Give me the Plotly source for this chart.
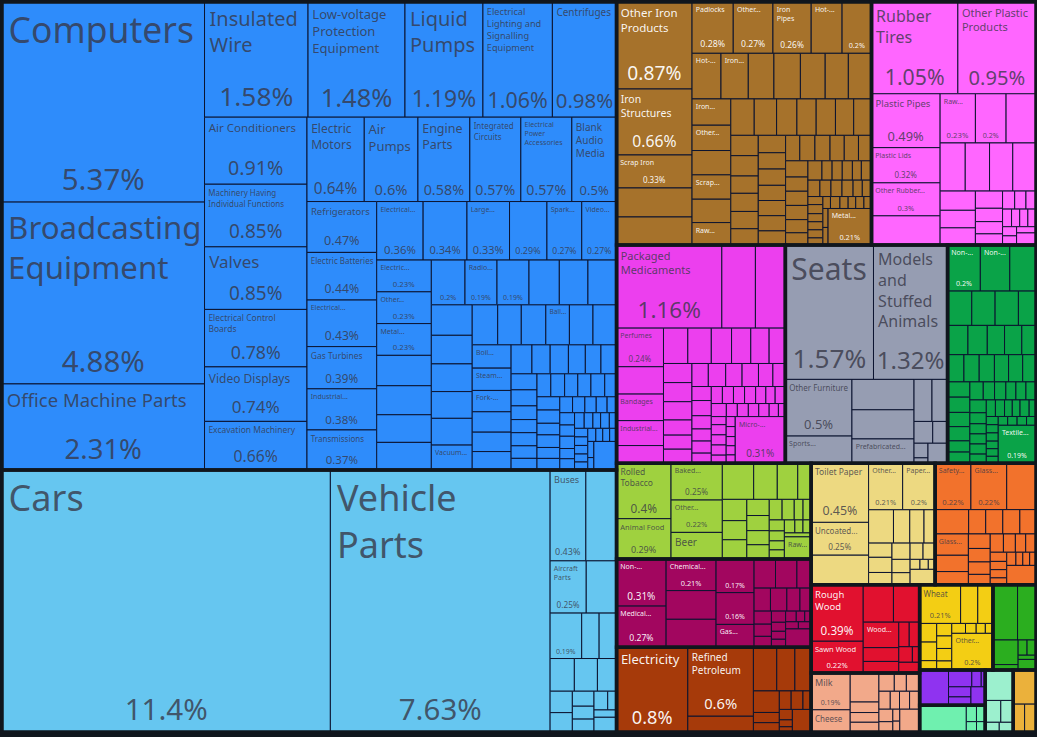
import numpy as np
import plotly.graph_objects as go

# shares of world trade in percent.
# a cell is: number = no text, (label, value) = label and percent,
# (label, value, False) = label only.  ("", value) = percent only.
machines = [
    ("col", [("Computers", 5.37), ("Broadcasting<br>Equipment", 4.88), ("Office Machine Parts", 2.31)]),
    ("row", [("Insulated<br>Wire", 1.58), ("Low-voltage<br>Protection<br>Equipment", 1.48), ("Liquid<br>Pumps", 1.19),
             ("Electrical<br>Lighting and<br>Signalling<br>Equipment", 1.06), ("Centrifuges", 0.98)]),
    ("col", [("Air Conditioners", 0.91), ("Machinery Having<br>Individual Functions", 0.85), ("Valves", 0.85),
             ("Electrical Control<br>Boards", 0.78), ("Video Displays", 0.74), ("Excavation Machinery", 0.66)]),
    ("row", [("Electric<br>Motors", 0.64), ("Air<br>Pumps", 0.6), ("Engine<br>Parts", 0.58), ("Integrated<br>Circuits", 0.57),
             ("Electrical<br>Power<br>Accessories", 0.57), ("Blank<br>Audio<br>Media", 0.5)]),
    ("col", [("Refrigerators", 0.47), ("Electric Batteries", 0.44), ("Electrical...", 0.43), ("Gas Turbines", 0.39),
             ("Industrial...", 0.38), ("Transmissions", 0.37)]),
    ("row", [("Electrical...", 0.36), ("", 0.34), ("Large...", 0.33), ("", 0.29), ("Spark...", 0.27), ("Video...", 0.27)]),
    ("col", [("Electric...", 0.23), ("Other...", 0.23), ("Metal...", 0.23), 0.22, 0.21, 0.2, 0.2]),
    ("row", [("", 0.2), ("Radio...", 0.19), ("", 0.19), 0.18, 0.17, 0.17]),
    ("col", [0.165, 0.155, 0.15, 0.145, 0.145, ("Vacuum...", 0.135, False)]),
    ("row", [0.135, 0.125, 0.13, ("Ball...", 0.125, False), 0.125, 0.125]),
    ("col", [("Boil...", 0.12, False), ("Steam...", 0.115, False), ("Fork-...", 0.11, False), 0.105, 0.1, 0.095]),
    ("row", [0.08, 0.07, 0.07, 0.065, 0.06, 0.06]),
    ("col", [0.055, 0.055, 0.047, 0.045, 0.045, 0.043, 0.04]),
    ("row", [0.042, 0.042, 0.04, 0.04, 0.042, 0.036]),
    ("col", [0.04, 0.04, 0.035, 0.038, 0.033, 0.035]),
    ("row", [0.027, 0.026, 0.024, 0.023, 0.02]),
    ("col", [0.024, 0.022, 0.024, 0.02, 0.022]),
    ("row", [0.02, 0.018, 0.016, 0.018, 0.015]),
    ("col", [0.015, 0.015, 0.015, 0.014, 0.014]),
    ("row", [0.014, 0.012, 0.012, 0.012]),
    ("col", [0.013, 0.01]),
    ("col", [0.086]),
]
transport = [
    ("col", [("Cars", 11.4)]),
    ("col", [("Vehicle<br>Parts", 7.63)]),
    ("row", [("Buses", 0.43), 0.37]),
    ("row", [("Aircraft<br>Parts", 0.25), 0.21]),
    ("row", [("", 0.19), 0.105, 0.105]),
    ("row", [0.105, 0.1, 0.083]),
    ("col", [0.063, 0.057]),
    ("col", [0.043, 0.037, 0.037]),
    ("row", [0.034, 0.022]),
    ("row", [0.022]),
    ("row", [0.044]),
]
metals = [
    ("col", [("Other Iron<br>Products", 0.87), ("Iron<br>Structures", 0.66), ("Scrap Iron", 0.33), 0.29, 0.28]),
    ("row", [("Padlocks", 0.28), ("Other...", 0.27), ("Iron<br>Pipes", 0.26), ("Hot-...", 0.21, False), ("", 0.2)]),
    ("row", [("Hot-...", 0.175, False), ("Iron...", 0.165, False), 0.155, 0.16, 0.15, 0.14, 0.14]),
    ("col", [("Iron...", 0.135, False), ("Other...", 0.13, False), 0.125, ("Scrap...", 0.125, False), 0.12, ("Raw...", 0.115, False)]),
    ("row", [0.113, 0.108, 0.098, 0.093, 0.093, 0.088, 0.086]),
    ("col", [0.074, 0.074, 0.063, 0.066, 0.063, 0.059]),
    ("col", [0.063, 0.059, 0.059, 0.055, 0.055, 0.055, 0.051]),
    ("row", [0.048, 0.051, 0.051, 0.048, 0.048, 0.044]),
    ("col", [0.048, 0.042, 0.042, 0.042, 0.039, 0.036]),
    ("row", [0.036, 0.026, 0.026, 0.026, 0.023, 0.026]),
    ("row", [0.026, 0.024, 0.024, 0.024, 0.02, 0.02]),
    ("col", [0.016, 0.018, 0.016, 0.016, 0.016, 0.014]),
    ("row", [0.012, 0.015, 0.013, 0.012, 0.013, 0.012]),
    ("col", [0.013, 0.012]),
    ("col", [("Metal...", 0.21)]),
]
plastics = [
    ("row", [("Rubber<br>Tires", 1.05), ("Other Plastic<br>Products", 0.95)]),
    ("col", [("Plastic Pipes", 0.49), ("Plastic Lids", 0.32), ("Other Rubber...", 0.3), 0.265]),
    ("row", [("Raw...", 0.23), ("", 0.2), 0.195]),
    ("row", [0.16, 0.155, 0.148, 0.148]),
    ("col", [0.09, 0.082, 0.08]),
    ("col", [0.062, 0.048, 0.044, 0.04]),
    ("row", [0.029, 0.027, 0.024]),
    ("row", [0.021, 0.019, 0.019, 0.019]),
    ("col", [0.017, 0.017]),
    ("col", [0.016, 0.031]),
]
chemicals = [
    ("row", [("Packaged<br>Medicaments", 1.16), 0.37, 0.33]),
    ("col", [("Perfumes", 0.24), 0.17, ("Bandages", 0.165, False), ("Industrial...", 0.155, False), 0.11]),
    ("row", [0.114, 0.11, 0.095, 0.09, 0.086, 0.076]),
    ("col", [0.072, 0.072, 0.069, 0.057, 0.053, 0.053]),
    ("row", [0.05, 0.053, 0.05, 0.05, 0.044, 0.038]),
    ("col", [0.036, 0.039, 0.034, 0.031, 0.031, 0.026]),
    ("row", [0.025, 0.025, 0.025, 0.025, 0.023, 0.021, 0.023]),
    ("row", [0.026, 0.019, 0.019, 0.018, 0.018, 0.016, 0.012]),
    ("col", [0.016, 0.02, 0.02, 0.02, 0.016]),
    ("col", [0.012, 0.012, 0.011, 0.011, 0.01]),
    ("col", [("Micro-...", 0.31)]),
]
misc = [
    ("row", [("Seats", 1.57), ("Models<br>and<br>Stuffed<br>Animals", 1.32)]),
    ("col", [("Other Furniture", 0.5), ("Sports...", 0.24, False)]),
    ("col", [0.25, 0.24, ("Prefabricated...", 0.2, False)]),
    ("row", [0.1, 0.087]),
    ("row", [0.054, 0.043]),
    ("col", [0.027, 0.01]),
    ("col", [0.052]),
]
textiles = [
    ("row", [("Non-...", 0.2), ("Non-...", 0.18, False), 0.16]),
    ("row", [0.11, 0.106, 0.106, 0.08]),
    ("row", [0.079, 0.075, 0.067, 0.067, 0.055]),
    ("row", [0.059, 0.055, 0.055, 0.051, 0.051, 0.048]),
    ("col", [0.045, 0.045, 0.042, 0.042, 0.033, 0.033]),
    ("row", [0.032, 0.027, 0.027, 0.024, 0.024, 0.024]),
    ("col", [0.028, 0.024, 0.022, 0.022, 0.022, 0.02]),
    ("row", [0.02, 0.02, 0.017, 0.017, 0.02, 0.015]),
    ("col", [0.013, 0.013, 0.013, 0.012, 0.012, 0.011]),
    ("row", [0.011, 0.011, 0.011, 0.011]),
    ("row", [("Textile...", 0.19)]),
]
foodstuffs = [
    ("col", [("Rolled<br>Tobacco", 0.4), ("Animal Food", 0.29)]),
    ("col", [("Baked...", 0.25), ("Other...", 0.22), ("Beer", 0.18, False)]),
    ("row", [0.15, 0.113, 0.098, 0.064]),
    ("col", [0.069, 0.062, 0.062]),
    ("col", [0.048, 0.045, 0.042, 0.042]),
    ("row", [0.035, 0.033, 0.024, 0.022]),
    ("col", [0.022, 0.02, 0.018, 0.018]),
    ("row", [0.018, 0.014, 0.014]),
    ("row", [0.014]),
    ("row", [("Raw...", 0.078, False)]),
]
minerals = [
    ("col", [("Non-...", 0.31), ("Medical...", 0.27)]),
    ("col", [("Chemical...", 0.21), 0.19, 0.185]),
    ("col", [("", 0.17), ("", 0.16), ("Gas...", 0.115, False)]),
    ("row", [0.083, 0.083, 0.055]),
    ("row", [0.05, 0.05, 0.04, 0.034]),
    ("col", [0.03, 0.028, 0.025]),
    ("col", [0.021, 0.017, 0.015, 0.015]),
    ("row", [0.015, 0.012, 0.009]),
    ("row", [0.012, 0.012]),
    ("row", [0.062]),
]
fuels = [
    ("col", [("Electricity", 0.8)]),
    ("col", [("Refined<br>Petroleum", 0.6), 0.137]),
    ("row", [0.135, 0.105, 0.094]),
    ("col", [0.074, 0.035, 0.032]),
    ("row", [0.029, 0.029, 0.02]),
    ("col", [0.018, 0.012, 0.009]),
    ("col", [0.056]),
]
paper = [
    ("col", [("Toilet Paper", 0.45), ("Uncoated...", 0.25), 0.225]),
    ("row", [("Other...", 0.21), ("Paper...", 0.2)]),
    ("row", [0.11, 0.072, 0.063, 0.049]),
    ("col", [0.044, 0.047, 0.038]),
    ("row", [0.039, 0.028, 0.026]),
    ("col", [0.032, 0.029]),
    ("row", [0.013, 0.011, 0.009]),
    ("row", [0.051]),
]
stone = [
    ("row", [("Safety...", 0.22), ("Glass...", 0.22), 0.18]),
    ("row", [0.108, 0.055, 0.055, 0.055, 0.052]),
    ("col", [("Glass...", 0.094, False), 0.072, 0.058]),
    ("col", [0.042, 0.039, 0.036, 0.03]),
    ("row", [0.032, 0.029, 0.025, 0.025]),
    ("col", [0.02, 0.018, 0.018, 0.015]),
    ("row", [0.016, 0.012, 0.012, 0.011]),
    ("row", [0.075]),
]
wood = [
    ("col", [("Rough<br>Wood", 0.39), ("Sawn Wood", 0.22)]),
    ("row", [0.15, 0.13]),
    ("col", [("Wood...", 0.12, False), 0.065, 0.055]),
    ("row", [0.034, 0.034]),
    ("row", [0.028, 0.015]),
    ("row", [0.03]),
]
animal = [
    ("col", [("Milk", 0.19), ("Cheese", 0.115, False)]),
    ("col", [0.11, 0.04, 0.037, 0.037]),
    ("row", [0.037, 0.029, 0.032]),
    ("row", [0.027, 0.022, 0.024, 0.024]),
    ("col", [0.023, 0.019]),
    ("col", [0.011, 0.01]),
    ("col", [0.06]),
]
vegetable = [
    ("row", [("Wheat", 0.21), 0.088, 0.078]),
    ("col", [0.042, 0.042, 0.021]),
    ("col", [0.025, 0.025, 0.025, 0.018]),
    ("row", [0.018, 0.014, 0.012, 0.01]),
    ("row", [("Other...", 0.2)]),
]
precious = [
    ("row", [0.18, 0.135]),
    ("col", [0.082, 0.018]),
    ("row", [0.018, 0.018]),
    ("row", [0.01]),
    ("row", [0.025]),
]
footwear = [
    ("col", [0.135]),
    ("row", [0.052, 0.021, 0.009]),
    ("col", [0.03, 0.025]),
    ("col", [0.035]),
]
instruments = [
    ("col", [0.165]),
    ("row", [0.022, 0.019]),
    ("row", [0.014, 0.012]),
]
aqua_goods = [
    ("row", [0.113]),
    ("row", [0.045, 0.036]),
    ("row", [0.018, 0.018]),
]
amber_goods = [
    ("row", [0.103]),
    ("row", [0.042, 0.042]),
]

group_cells = {
    "machines": machines, "transport": transport, "metals": metals, "plastics": plastics,
    "chemicals": chemicals, "misc": misc, "textiles": textiles, "foodstuffs": foodstuffs,
    "minerals": minerals, "fuels": fuels, "paper": paper, "stone": stone, "wood": wood,
    "animal": animal, "vegetable": vegetable, "precious": precious, "footwear": footwear,
    "instruments": instruments, "aqua_goods": aqua_goods, "amber_goods": amber_goods,
}
group_colors = {
    "machines": "#2e8cfb", "transport": "#66c6f0", "metals": "#a6722b", "plastics": "#ff66ff",
    "chemicals": "#ec3fee", "misc": "#969db2", "textiles": "#0aa348", "foodstuffs": "#9fd13f",
    "minerals": "#a2065f", "fuels": "#a63a0a", "paper": "#edd981", "stone": "#f2722c", "wood": "#e1112f",
    "animal": "#f2a98a", "vegetable": "#f3ce14", "precious": "#2bae1f", "footwear": "#8f33f0",
    "instruments": "#6ff0af", "aqua_goods": "#9cf0ce", "amber_goods": "#ebb13b",
}
white_text = ["metals", "textiles", "minerals", "fuels", "wood"]

# how the groups nest, rows and columns taking turns
group_tree = [
    ["machines", "transport"],
    [
        ["metals", "plastics"],
        ["chemicals", "misc", "textiles"],
        [
            ["foodstuffs", "minerals", "fuels"],
            [
                ["paper", "stone"],
                [
                    ["wood", "animal"],
                    [
                        ["vegetable", "precious"],
                        [["footwear", "instruments"], "aqua_goods", "amber_goods"],
                    ],
                ],
            ],
        ],
    ],
]

label_sizes = {
    "Computers": 35.5, "Broadcasting<br>Equipment": 31.5, "Office Machine Parts": 18.5, "Insulated<br>Wire": 20,
    "Low-voltage<br>Protection<br>Equipment": 13, "Liquid<br>Pumps": 20,
    "Electrical<br>Lighting and<br>Signalling<br>Equipment": 9.2, "Centrifuges": 10, "Air Conditioners": 11.5,
    "Machinery Having<br>Individual Functions": 8, "Valves": 17, "Electrical Control<br>Boards": 8.5,
    "Video Displays": 12, "Excavation Machinery": 8.5, "Electric<br>Motors": 12, "Air<br>Pumps": 13,
    "Engine<br>Parts": 12.5, "Integrated<br>Circuits": 8, "Electrical<br>Power<br>Accessories": 7,
    "Blank<br>Audio<br>Media": 10, "Refrigerators": 9.5, "Electric Batteries": 8, "Gas Turbines": 8.5,
    "Transmissions": 8, "Cars": 36, "Vehicle<br>Parts": 36, "Buses": 9, "Other Iron<br>Products": 11.5,
    "Iron<br>Structures": 10.5, "Rubber<br>Tires": 16, "Other Plastic<br>Products": 11, "Plastic Pipes": 9.5,
    "Packaged<br>Medicaments": 11, "Seats": 30, "Models<br>and<br>Stuffed<br>Animals": 16,
    "Other Furniture": 8, "Rolled<br>Tobacco": 8.5, "Animal Food": 7.5, "Beer": 10, "Toilet Paper": 8.5,
    "Uncoated...": 8, "Electricity": 13, "Refined<br>Petroleum": 10, "Rough<br>Wood": 9.5, "Sawn Wood": 7.5,
    "Wheat": 8, "Milk": 9, "Cheese": 8,
}
pct_overrides = {"Scrap Iron": 8, "Plastic Lids": 8, "Other Rubber...": 7.5, "Perfumes": 8, "Buses": 9}

ids, parents, labels, values = [], [], [], []
names, pcts, colors, widths, ink, sizes = [], [], [], [], [], []
pct_sizes, group_widths = [], []


def pct_size(v, label):
    if label in pct_overrides:
        return pct_overrides[label]
    return float(np.interp(v, [0.19, 0.29, 0.33, 0.5, 0.85, 1.2, 1.6, 2.3, 4], [7, 9, 11, 13, 19, 23, 26.5, 27.5, 29.5]))


def add_node(parent, color, text_color, value=0, name="", pct="", size=8, psize=8, width=0, gwidth=0):
    node_id = f"n{len(ids)}"
    ids.append(node_id)
    parents.append(parent)
    labels.append(node_id)
    values.append(value)
    names.append(name)
    pcts.append(pct)
    colors.append(color)
    widths.append(width)
    ink.append(text_color)
    sizes.append(size)
    pct_sizes.append(psize)
    group_widths.append(gwidth)
    return node_id


def add_cell(cell, parent, color, text_color):
    if not isinstance(cell, tuple):
        add_node(parent, color, text_color, value=cell, width=1)
        return
    label, value = cell[0], cell[1]
    shown = len(cell) == 2
    # a hair space keeps the label off the cell edge
    name = "\u200a" + label.replace("<br>", "<br>\u200a") if label else ""
    add_node(parent, color, text_color, value=value, name=name, pct=f"{value}%" if shown else "",
             size=label_sizes.get(label, 7), psize=pct_size(value, label), width=1)


def add_strips(strips, parent, across, color, text_color):
    # across: children of this node run left to right
    want = "col" if across else "row"
    taken = 0
    while taken < len(strips) and strips[taken][0] == want:
        node = add_node(parent, color, text_color)
        for cell in strips[taken][1]:
            add_cell(cell, node, color, text_color)
        taken += 1
    if taken < len(strips):
        node = add_node(parent, color, text_color)
        add_strips(strips[taken:], node, not across, color, text_color)


def add_tree(tree, parent, across):
    if isinstance(tree, str):
        text_color = "rgba(255,255,255,0.95)" if tree in white_text else "rgba(55,55,70,0.8)"
        node = add_node(parent, group_colors[tree], text_color, gwidth=3.5)
        add_strips(group_cells[tree], node, not across, group_colors[tree], text_color)
        return
    for branch in tree:
        node = add_node(parent, "#10161d", "#000000")
        add_tree(branch, node, not across)


back = "#10161d"
root = add_node("", back, "#000000")
for branch in group_tree:
    add_tree(branch, add_node(root, back, "#000000"), False)

font_name = "Noto Sans"
clear = ["rgba(0,0,0,0)"] * len(ids)

fig = go.Figure()
fig.add_trace(go.Treemap(
    ids=ids, labels=labels, parents=parents, values=values, branchvalues="remainder", sort=False,
    text=names, textinfo="text", textposition="top left",
    textfont=dict(family=font_name, size=sizes, color=ink),
    tiling=dict(packing="slice-dice", pad=0),
    marker=dict(colors=colors, depthfade=False, pad=dict(t=0, l=0, r=0, b=0),
                line=dict(color="#0c1430", width=widths)),
    pathbar=dict(visible=False), hoverinfo="skip",
))
# percentages and the dark group frames sit in a clear copy of the same tree
fig.add_trace(go.Treemap(
    ids=ids, labels=labels, parents=parents, values=values, branchvalues="remainder", sort=False,
    text=pcts, textinfo="text", textposition="bottom center",
    textfont=dict(family=font_name, size=pct_sizes, color=ink),
    tiling=dict(packing="slice-dice", pad=0),
    marker=dict(colors=clear, depthfade=False, pad=dict(t=0, l=0, r=0, b=0),
                line=dict(color=back, width=group_widths)),
    pathbar=dict(visible=False), hoverinfo="skip",
))
fig.update_layout(width=1037, height=737, margin=dict(l=2, r=1, t=2, b=5),
                  paper_bgcolor=back, showlegend=False)
fig.write_html("out.html", config={"displayModeBar": False},
               post_script="document.body.style.margin='0';document.body.style.background='#10161d';")
